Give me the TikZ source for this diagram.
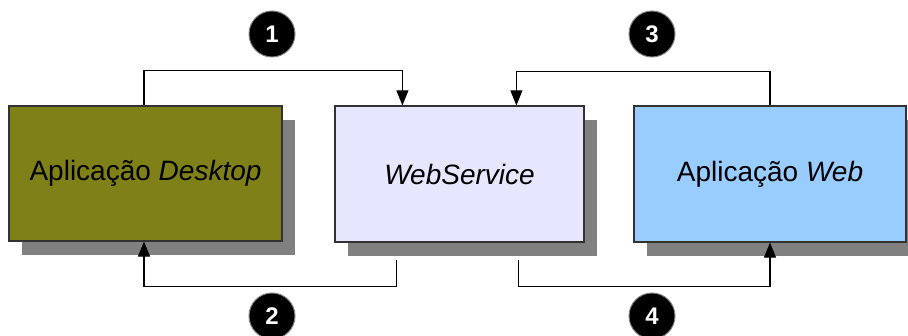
\documentclass[tikz,border=0pt]{standalone}
\usepackage{fontspec}
\setmainfont{Liberation Sans}
\usetikzlibrary{arrows.meta,calc,shadows}
\definecolor{olivebox}{RGB}{128,128,25}
\definecolor{wsbox}{RGB}{230,230,255}
\definecolor{webbox}{RGB}{153,204,255}
\definecolor{shadowgray}{RGB}{128,128,128}
\definecolor{edgegray}{RGB}{50,50,50}
\tikzset{
  appbox/.style={draw=edgegray, line width=1.2pt, rectangle, inner sep=0pt,
    font=\fontsize{28}{32}\selectfont,
    drop shadow={shadow xshift=13pt, shadow yshift=-14pt, fill=shadowgray, opacity=1}},
  flow/.style={draw=black, line width=1.1pt, -{Triangle[length=15pt,width=12pt]}},
  badge/.style={circle, fill=black, draw=shadowgray, line width=1pt, minimum size=46pt,
    inner sep=0pt, text=white, font=\fontsize{24}{28}\selectfont\bfseries}
}
\begin{document}
\begin{tikzpicture}[x=1pt,y=-1pt]
\useasboundingbox (0,0) rectangle (908,336);
\node[appbox, fill=olivebox, minimum width=273pt, minimum height=135pt] (desk) at (145.5,173.5) {Aplicação \textit{Desktop}};
\node[appbox, fill=wsbox, minimum width=249pt, minimum height=136pt] (ws) at (459.5,174) {\textit{WebService}};
\node[appbox, fill=webbox, minimum width=272pt, minimum height=136pt] (web) at (770,174) {Aplicação \textit{Web}};

\coordinate (wsin1) at ($(ws.north west)+(68,0)$);
\coordinate (wsin3) at ($(ws.north west)+(182,0)$);
\coordinate (wsout2) at ($(ws.south west)+(62,17)$);
\coordinate (wsout4) at ($(ws.south west)+(184,17)$);
\coordinate (deskin) at ($(desk.south)+(-1.5,0)$);
\coordinate (deskout) at ($(desk.north)+(-1.5,0)$);

\draw[flow] (deskout) -- ++(0,-35) -| (wsin1);
\draw[flow] (web.north) -- ++(0,-34) -| (wsin3);
\draw[flow] (wsout2) -- ++(0,27) -| (deskin);
\draw[flow] (wsout4) -- ++(0,27) -| (web.south);

\node[badge] (b1) at (272,34) {1};
\node[badge] (b2) at (272,316) {2};
\node[badge] (b3) at (652,34) {3};
\node[badge] (b4) at (652,316) {4};
\end{tikzpicture}
\end{document}
